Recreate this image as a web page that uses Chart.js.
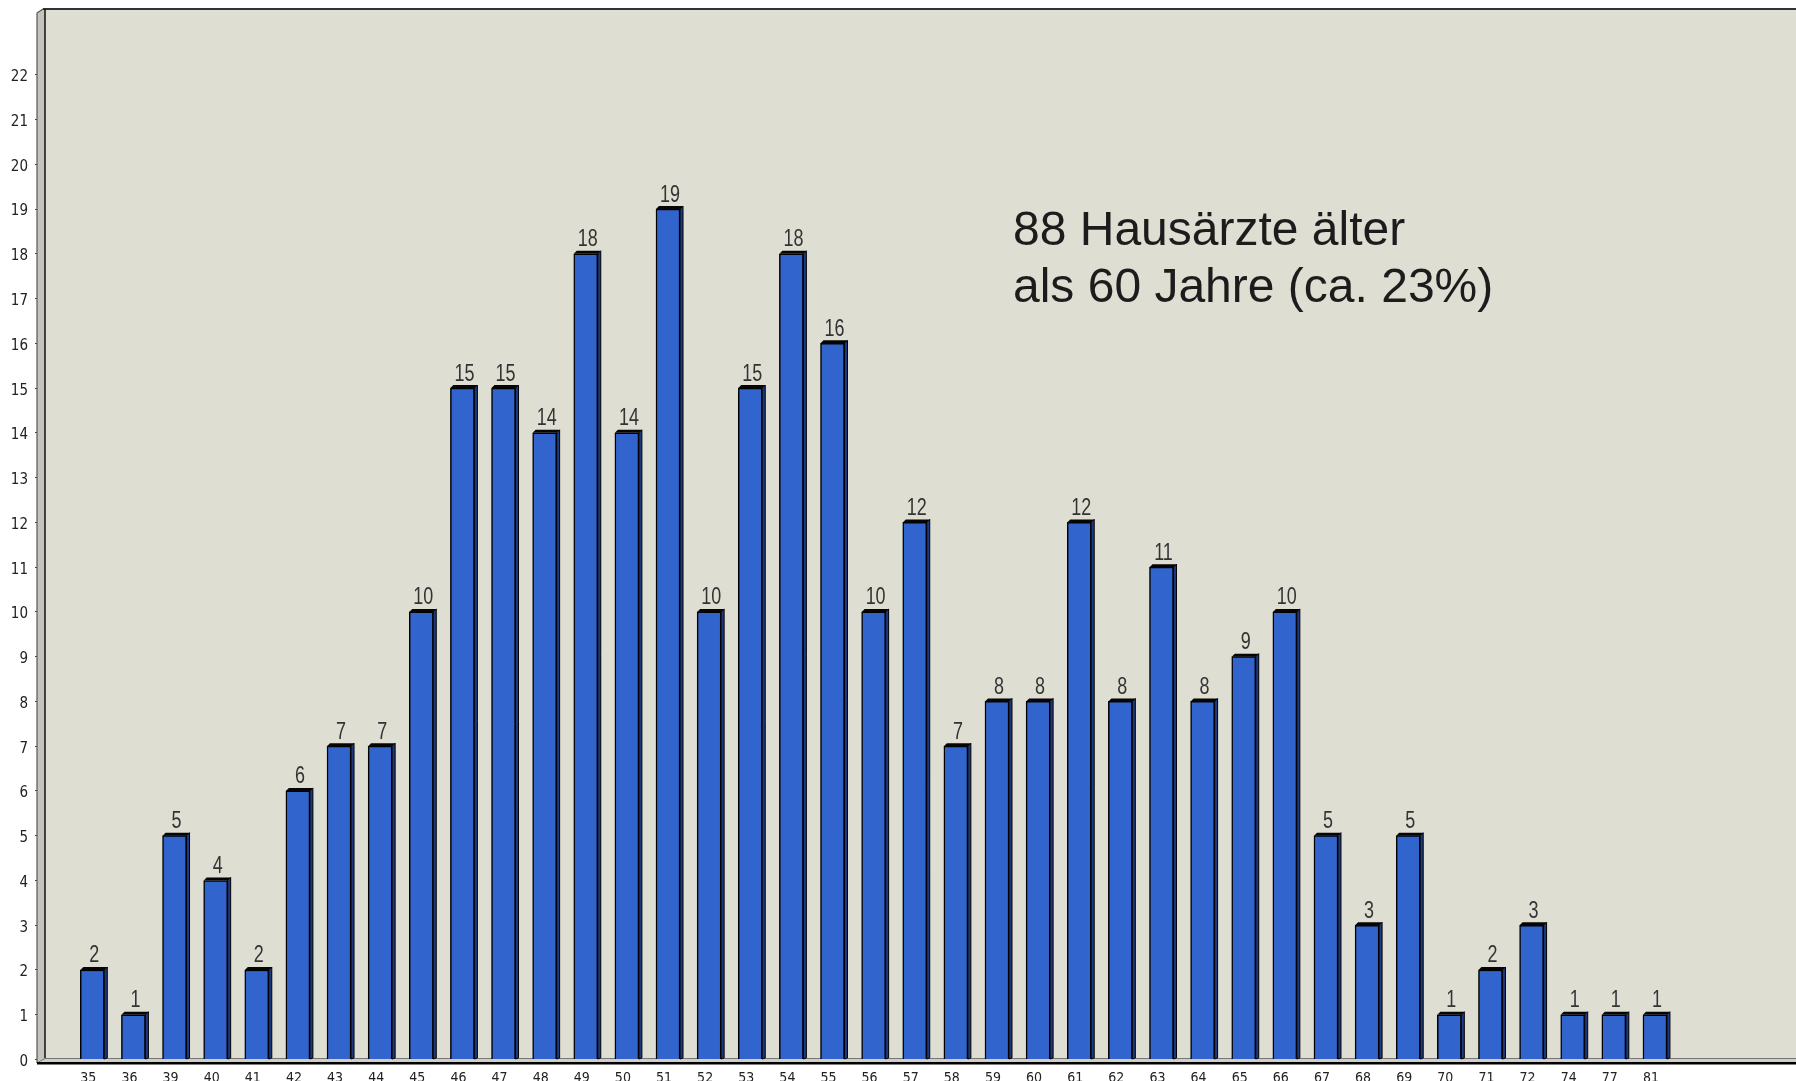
<!DOCTYPE html>
<html><head><meta charset="utf-8">
<script src="https://cdn.jsdelivr.net/npm/chart.js@4.4.1/dist/chart.umd.min.js"></script>
<style>html,body{margin:0;padding:0;background:#fff;overflow:hidden}canvas{display:block}</style>
</head><body>
<canvas id="c" width="1796" height="1081"></canvas>
<script>
const ageLabels = ['35','36','39','40','41','42','43','44','45','46','47','48','49','50','51','52','53','54','55','56','57','58','59','60','61','62','63','64','65','66','67','68','69','70','71','72','74','77','81'];
const doctorCounts = [2,1,5,4,2,6,7,7,10,15,15,14,18,14,19,10,15,18,16,10,12,7,8,8,12,8,11,8,9,10,5,3,5,1,2,3,1,1,1];
const yTickMax = 22;
const noteLines = ['88 Hausärzte älter', 'als 60 Jahre (ca. 23%)'];

const NARROW = "'Liberation Sans Narrow','DejaVu Sans Condensed','Arial Narrow',sans-serif";

const frame3d = {
  id: 'frame3d',
  beforeDraw(chart) {
    const {ctx, chartArea: a} = chart;
    ctx.save();
    ctx.fillStyle = '#dfded3';
    ctx.fillRect(a.left, a.top, a.right - a.left, a.bottom - a.top + 3);
    ctx.restore();
  },
  beforeDatasetsDraw(chart) {
    const {ctx, chartArea: a} = chart;
    const d = 8;
    ctx.save();
    ctx.fillStyle = '#c4c4bc';
    ctx.beginPath();
    ctx.moveTo(a.left - d, a.top + 4);
    ctx.lineTo(a.left - 2, a.top);
    ctx.lineTo(a.left, a.top);
    ctx.lineTo(a.left, a.bottom - 1);
    ctx.lineTo(a.left - d, a.bottom + 3.5);
    ctx.closePath();
    ctx.fill();
    ctx.fillStyle = '#cfcfc7';
    ctx.beginPath();
    ctx.moveTo(a.left, a.bottom - 1);
    ctx.lineTo(a.right, a.bottom - 1);
    ctx.lineTo(a.right, a.bottom + 3.5);
    ctx.lineTo(a.left - d, a.bottom + 3.5);
    ctx.closePath();
    ctx.fill();
    ctx.strokeStyle = '#555';
    ctx.lineWidth = 1.2;
    ctx.beginPath();
    ctx.moveTo(a.left - d, a.bottom + 3.5);
    ctx.lineTo(a.left - d, a.top + 4);
    ctx.lineTo(a.left - 2, a.top);
    ctx.stroke();
    ctx.strokeStyle = '#333';
    ctx.lineWidth = 2;
    ctx.beginPath();
    ctx.moveTo(a.left - 2, a.top);
    ctx.lineTo(a.right, a.top);
    ctx.stroke();
    ctx.strokeStyle = '#111';
    ctx.lineWidth = 1.5;
    ctx.beginPath();
    ctx.moveTo(a.left, a.top);
    ctx.lineTo(a.left, a.bottom - 1);
    ctx.stroke();
    ctx.strokeStyle = '#777';
    ctx.lineWidth = 1;
    ctx.beginPath();
    ctx.moveTo(a.left, a.bottom - 1);
    ctx.lineTo(a.right, a.bottom - 1);
    ctx.moveTo(a.left, a.bottom - 1);
    ctx.lineTo(a.left - d, a.bottom + 3.5);
    ctx.stroke();
    ctx.strokeStyle = '#000';
    ctx.lineWidth = 2.5;
    ctx.beginPath();
    ctx.moveTo(a.left - d, a.bottom + 3.8);
    ctx.lineTo(a.right, a.bottom + 3.8);
    ctx.stroke();
    ctx.restore();
  },
  afterDatasetsDraw(chart) {
    const {ctx} = chart;
    const meta = chart.getDatasetMeta(0);
    const dd = 3;
    ctx.save();
    meta.data.forEach((el, i) => {
      const {x, y, base, width} = el.getProps(['x', 'y', 'base', 'width'], true);
      const l = x - width / 2, r = x + width / 2;
      ctx.fillStyle = '#1d3a80';
      ctx.strokeStyle = '#000';
      ctx.lineWidth = 1;
      ctx.beginPath();
      ctx.moveTo(r, y);
      ctx.lineTo(r + dd, y - dd);
      ctx.lineTo(r + dd, base - 1);
      ctx.lineTo(r, base);
      ctx.closePath();
      ctx.fill();
      ctx.stroke();
      ctx.fillStyle = '#050505';
      ctx.beginPath();
      ctx.moveTo(l, y);
      ctx.lineTo(l + dd, y - dd);
      ctx.lineTo(r + dd, y - dd);
      ctx.lineTo(r, y);
      ctx.closePath();
      ctx.fill();
      // value label (narrowed sans)
      ctx.save();
      ctx.translate(x + 2, y - 7.5);
      ctx.scale(0.78, 1);
      ctx.fillStyle = '#333';
      ctx.font = "23px 'Liberation Sans', Arial, sans-serif";
      ctx.textAlign = 'center';
      ctx.textBaseline = 'alphabetic';
      ctx.fillText(String(doctorCounts[i]), 0, 0);
      ctx.restore();
    });
    ctx.restore();
  },
  afterDraw(chart) {
    const {ctx} = chart;
    ctx.save();
    ctx.fillStyle = '#1c1c1c';
    ctx.font = "48px 'Liberation Sans', Arial, Helvetica, sans-serif";
    ctx.textAlign = 'left';
    ctx.textBaseline = 'alphabetic';
    ctx.fillText(noteLines[0], 1013, 245);
    ctx.fillText(noteLines[1], 1013, 302);
    ctx.restore();
  }
};

new Chart(document.getElementById('c'), {
  type: 'bar',
  data: {
    datasets: [{
      data: doctorCounts.map((v, i) => ({x: i, y: v})),
      backgroundColor: '#3264cd',
      borderColor: '#000',
      borderWidth: 1.5,
      barThickness: 24
    }]
  },
  options: {
    responsive: false,
    devicePixelRatio: 1,
    animation: false,
    layout: {padding: {top: 9, right: 0, bottom: 0, left: 0}},
    plugins: {legend: {display: false}, tooltip: {enabled: false}, title: {display: false}},
    scales: {
      x: {
        type: 'linear',
        offset: false,
        min: -1.15,
        max: 41.43,
        grid: {display: false, offset: false},
        border: {display: false},
        afterBuildTicks: (s) => { s.ticks = ageLabels.map((_, i) => ({value: i})); },
        afterFit: (s) => { s.height = 21.5; s.paddingLeft = 0; s.paddingRight = 0; },
        ticks: {
          autoSkip: false,
          maxRotation: 0,
          padding: 2,
          labelOffset: -4,
          color: '#222',
          font: {family: NARROW, size: 14},
          callback: (v) => ageLabels[v]
        }
      },
      y: {
        min: 0,
        max: 23.47,
        grid: {display: true, drawOnChartArea: false, drawTicks: true, tickLength: 10, color: '#444'},
        border: {display: false},
        afterBuildTicks: (s) => { s.ticks = s.ticks.filter(t => Number.isInteger(t.value) && t.value <= yTickMax); },
        afterFit: (s) => { s.width = 45; s.paddingTop = 0; s.paddingBottom = 0; },
        ticks: {
          stepSize: 1,
          padding: 7,
          labelOffset: 2.5,
          color: '#222',
          font: {family: NARROW, size: 15}
        }
      }
    }
  },
  plugins: [frame3d]
});
</script>
</body></html>
